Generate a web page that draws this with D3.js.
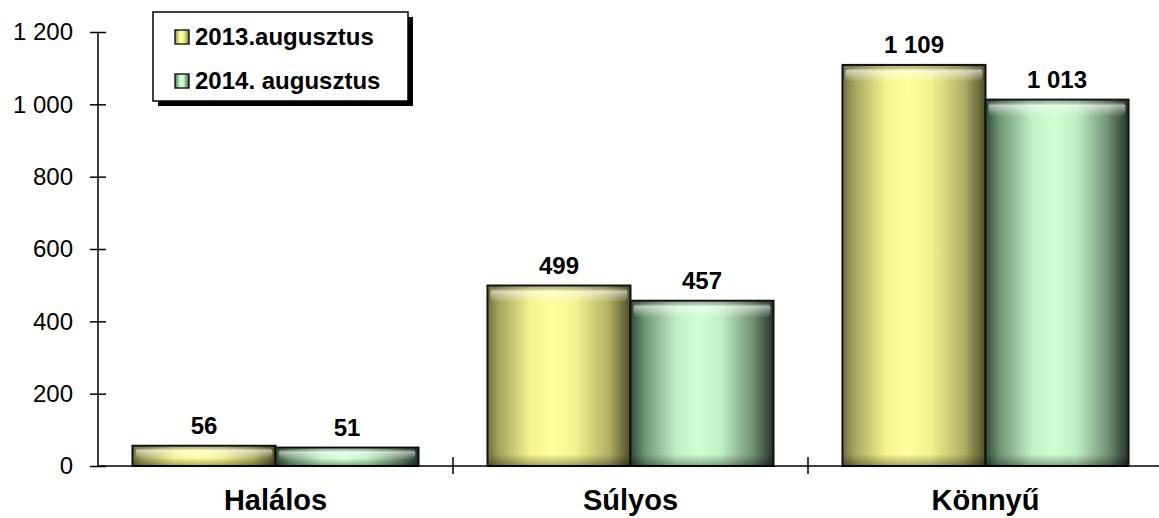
<!DOCTYPE html>
<html>
<head>
<meta charset="utf-8">
<script src="https://cdn.jsdelivr.net/npm/d3@7"></script>
<style>
  body { margin: 0; background: #fff; }
  text { font-family: "Liberation Sans", Arial, sans-serif; }
</style>
</head>
<body>
<div id="chart"></div>
<script>
// data
var categories = ["Halálos", "Súlyos", "Könnyű"];
var seriesNames = ["2013.augusztus", "2014. augusztus"];
var values2013 = [56, 499, 1109];
var values2014 = [51, 457, 1013];
var yTicks = [0, 200, 400, 600, 800, 1000, 1200];

var W = 1159, H = 518;
var margin = {top: 32, left: 98, bottom: 52};
var plotH = H - margin.top - margin.bottom; // 434

var svg = d3.select("#chart").append("svg")
    .attr("width", W)
    .attr("height", H);

var huf = d3.formatLocale({decimal: ",", thousands: " ", grouping: [3], currency: ["", ""]});
var fmt = huf.format(",d");

// set the ranges
var x = d3.scaleBand()
    .domain(categories)
    .range([margin.left, margin.left + 3 * 355])
    .paddingInner(0)
    .paddingOuter(0);
var xs = d3.scaleBand()
    .domain([0, 1])
    .range([0, x.bandwidth()])
    .paddingInner(0)
    .paddingOuter(0.241);
var y = d3.scaleLinear()
    .domain([0, 1200])
    .range([margin.top + plotH, margin.top]);

// gradients
var defs = svg.append("defs");
function hGrad(id, stops) {
  var g = defs.append("linearGradient").attr("id", id)
      .attr("x1", "0").attr("x2", "1").attr("y1", "0").attr("y2", "0");
  stops.forEach(function(s) {
    g.append("stop").attr("offset", s[0]).attr("stop-color", s[1]);
  });
}
hGrad("g2013", [[0, "#6f6f3c"], [0.08, "#a4a45e"], [0.3, "#f4f48e"], [0.45, "#ffff9c"], [0.62, "#f2f290"], [0.85, "#b0b064"], [1, "#4c4c28"]]);
hGrad("g2014", [[0, "#2f4a34"], [0.1, "#6f9676"], [0.32, "#c2f0c6"], [0.48, "#ceffd2"], [0.64, "#bfeec4"], [0.86, "#6f8f72"], [1, "#23332a"]]);

var hl = defs.append("linearGradient").attr("id", "hl")
    .attr("x1", "0").attr("x2", "0").attr("y1", "0").attr("y2", "1");
hl.append("stop").attr("offset", 0).attr("stop-color", "#000").attr("stop-opacity", 0.25);
hl.append("stop").attr("offset", 0.3).attr("stop-color", "#fff").attr("stop-opacity", 0.55);
hl.append("stop").attr("offset", 1).attr("stop-color", "#fff").attr("stop-opacity", 0);

var sh = defs.append("linearGradient").attr("id", "sh")
    .attr("x1", "0").attr("x2", "0").attr("y1", "0").attr("y2", "1");
sh.append("stop").attr("offset", 0).attr("stop-color", "#000").attr("stop-opacity", 0);
sh.append("stop").attr("offset", 1).attr("stop-color", "#000").attr("stop-opacity", 0.35);

var data = [];
categories.forEach(function(c, i) {
  data.push({cat: c, s: 0, v: values2013[i]});
  data.push({cat: c, s: 1, v: values2014[i]});
});

// bars
var bars = svg.append("g").selectAll("g")
    .data(data)
  .enter().append("g")
    .attr("transform", function(d) { return "translate(" + (x(d.cat) + xs(d.s)) + ",0)"; });

bars.append("rect")
    .attr("x", 0)
    .attr("y", function(d) { return y(d.v); })
    .attr("width", xs.bandwidth())
    .attr("height", function(d) { return y(0) - y(d.v); })
    .attr("fill", function(d) { return d.s === 0 ? "url(#g2013)" : "url(#g2014)"; });

// top bevel highlight
bars.append("rect")
    .attr("x", 3)
    .attr("y", function(d) { return y(d.v) + 1; })
    .attr("width", xs.bandwidth() - 6)
    .attr("height", function(d) { return Math.min(16, (y(0) - y(d.v)) * 0.6); })
    .attr("rx", 6)
    .attr("fill", "url(#hl)");

// bottom shade
bars.append("rect")
    .attr("x", 0)
    .attr("y", function(d) { return y(0) - Math.min(12, (y(0) - y(d.v)) * 0.4); })
    .attr("width", xs.bandwidth())
    .attr("height", function(d) { return Math.min(12, (y(0) - y(d.v)) * 0.4); })
    .attr("fill", "url(#sh)");

// outline
bars.append("rect")
    .attr("x", 0)
    .attr("y", function(d) { return y(d.v); })
    .attr("width", xs.bandwidth())
    .attr("height", function(d) { return y(0) - y(d.v); })
    .attr("fill", "none")
    .attr("stroke", "#111")
    .attr("stroke-width", 2);

// value labels
bars.append("text")
    .attr("x", xs.bandwidth() / 2)
    .attr("y", function(d) { return y(d.v) - 12; })
    .attr("text-anchor", "middle")
    .style("font-size", "24px")
    .style("font-weight", "bold")
    .text(function(d) { return fmt(d.v); });

// y axis
var yAxis = svg.append("g")
    .attr("transform", "translate(" + margin.left + ",0)")
    .call(d3.axisLeft(y).tickValues(yTicks).tickFormat(fmt).tickSize(8).tickPadding(17));
yAxis.select(".domain").attr("stroke", "#000").attr("stroke-width", 1.5)
    .attr("d", "M0," + y(1200) + "V" + y(0));
yAxis.selectAll(".tick line").attr("x1", -8).attr("x2", 8).attr("stroke", "#000").attr("stroke-width", 1.5);
yAxis.selectAll(".tick text").style("font-size", "24px").attr("fill", "#000")
    .style("font-family", "'Liberation Sans', Arial, sans-serif");

// x axis
var xAxis = svg.append("g")
    .attr("transform", "translate(0," + y(0) + ")")
    .call(d3.axisBottom(x).tickSize(0).tickPadding(23));
xAxis.select(".domain").attr("stroke", "#000").attr("stroke-width", 1.5)
    .attr("d", "M" + margin.left + ",0H" + W);
xAxis.selectAll(".tick text").style("font-size", "29px").style("font-weight", "bold").attr("fill", "#000")
    .style("font-family", "'Liberation Sans', Arial, sans-serif");
// category boundary ticks
xAxis.append("g").selectAll("line")
    .data(categories.slice(1))
  .enter().append("line")
    .attr("x1", function(d) { return x(d); })
    .attr("x2", function(d) { return x(d); })
    .attr("y1", -9)
    .attr("y2", 8)
    .attr("stroke", "#000")
    .attr("stroke-width", 1.5);

// legend
var lg = svg.append("g").attr("transform", "translate(153,12)");
lg.append("rect").attr("x", 5).attr("y", 5).attr("width", 255).attr("height", 89).attr("fill", "#000");
lg.append("rect").attr("x", 0).attr("y", 0).attr("width", 255).attr("height", 89)
    .attr("fill", "#fff").attr("stroke", "#000").attr("stroke-width", 1.5);
var items = lg.selectAll(".item")
    .data(seriesNames)
  .enter().append("g")
    .attr("class", "item")
    .attr("transform", function(d, i) { return "translate(22," + (33 + i * 44) + ")"; });
items.append("rect")
    .attr("x", 0).attr("y", -15)
    .attr("width", 14).attr("height", 14)
    .attr("fill", function(d, i) { return i === 0 ? "url(#g2013)" : "url(#g2014)"; })
    .attr("stroke", "#222").attr("stroke-width", 1.5);
items.append("text")
    .attr("x", 20)
    .attr("y", 0)
    .style("font-size", "24px")
    .style("font-weight", "bold")
    .text(function(d) { return d; });
</script>
</body>
</html>
